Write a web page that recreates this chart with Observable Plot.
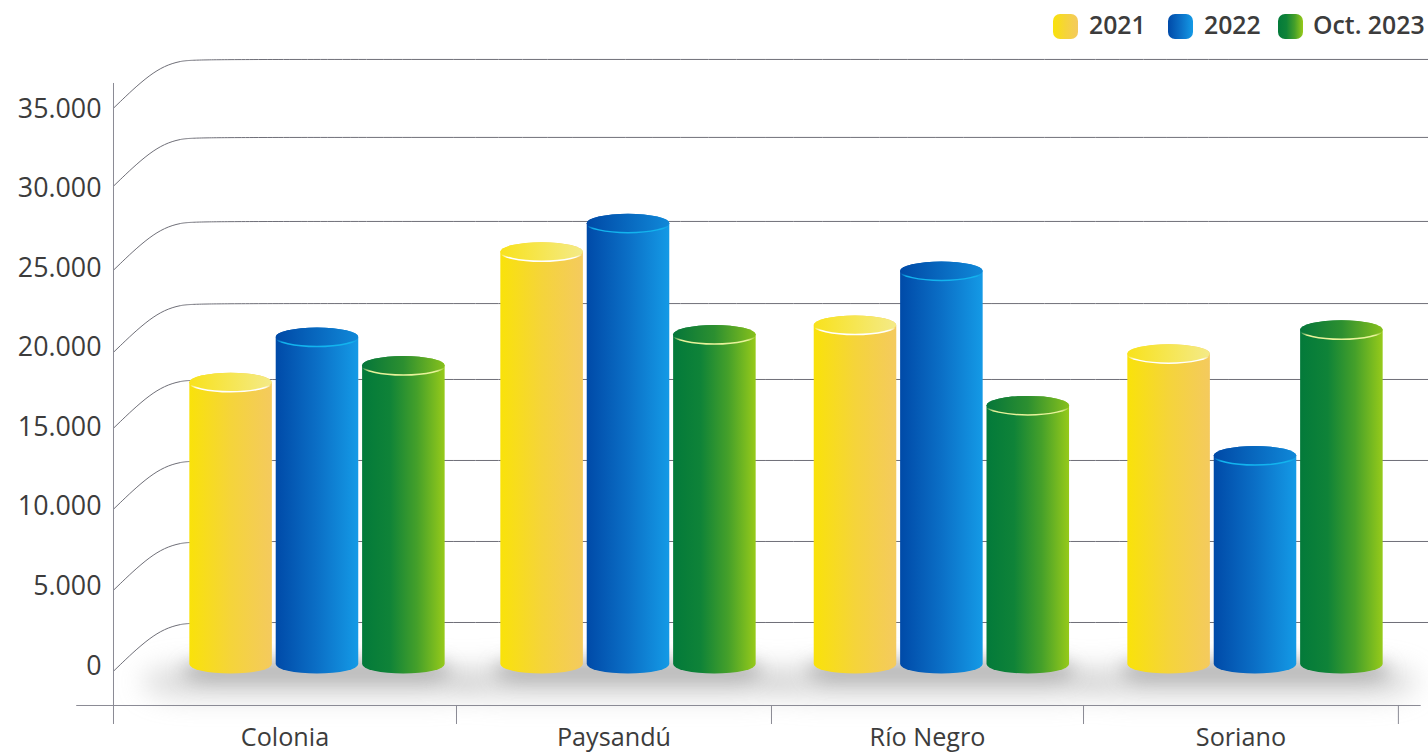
<!DOCTYPE html>
<html lang="es">
<head>
<meta charset="utf-8">
<script src="https://cdn.jsdelivr.net/npm/d3@7"></script>
<script src="https://cdn.jsdelivr.net/npm/@observablehq/plot@0.6"></script>
<style>
  html, body { margin: 0; padding: 0; background: #fff; overflow: hidden; }
  body { font-family: "Open Sans", sans-serif; color: #3c3c3c; }
  #legend { position: relative; height: 50px; width: 1428px; }
  #legend .swatch { position: absolute; top: 14px; width: 25px; height: 25px; border-radius: 7px; }
  #legend .name { position: absolute; top: 7px; font-size: 24.8px; font-weight: 600; line-height: 35px; white-space: nowrap; }
  #chart svg { display: block; }
</style>
</head>
<body>
<div id="legend"></div>
<div id="chart"></div>
<script>
// Values per department and period
const regions = ["Colonia", "Paysandú", "Río Negro", "Soriano"];
const series = ["2021", "2022", "Oct. 2023"];
const values2021 = [17700, 25900, 21300, 19500];
const values2022 = [20550, 27700, 24700, 13100];
const valuesOct2023 = [18760, 20700, 16250, 21000];
const yTicks = [0, 5000, 10000, 15000, 20000, 25000, 30000, 35000];

// Back-wall height of each perspective gridline, in chart units
const gridWall = [2640, 7730, 12820, 17910, 22680, 27840, 33120, 38020];

// Group centres and category separators along the x axis, in region-index units
const regionCentres = [0, 0.9947, 1.997, 3];
const regionEdges = [-0.6524, 0.4446, 1.452, 2.45, 3.457];

const seriesValues = [values2021, values2022, valuesOct2023];
const table = series.flatMap((name, s) =>
  regions.map((region, i) => ({region, i, s, name, value: seriesValues[s][i]}))
);

// Gradients: body and cap for every series, plus the lit rim under each cap
const palette = [
  {body: ["#f9e20a", "#f5d43a", "#f4ca5e"], cap: ["#f8e21c", "#f4ea88"], rim: "#ffffff"},
  {body: ["#004aa8", "#0b6fc6", "#149ae6"], cap: ["#0049a6", "#1088d8"], rim: "#12b4ee"},
  {body: ["#037a3a", "#0f8338", "#45a02a", "#96ca1a"], cap: ["#05763a", "#2c8f30", "#86c01c"], rim: "#e8f29a"}
];

function gradientDefs() {
  const defs = d3.create("svg:defs");
  const add = (id, colors) => {
    const g = defs.append("linearGradient").attr("id", id);
    colors.forEach((c, k) => g.append("stop")
      .attr("offset", k / (colors.length - 1)).attr("stop-color", c));
  };
  palette.forEach((p, s) => {
    add(`body-${s}`, p.body);
    add(`cap-${s}`, p.cap);
    const rim = defs.append("linearGradient").attr("id", `rim-${s}`)
      .attr("x1", 0).attr("x2", 0).attr("y1", 0).attr("y2", 1);
    rim.append("stop").attr("offset", 0.62).attr("stop-color", p.rim).attr("stop-opacity", 0);
    rim.append("stop").attr("offset", 0.8).attr("stop-color", p.rim);
  });
  return defs.node();
}

// Cylinder proportions, in px and region-index units
const capRy = 9.5;
const capRx = 41.25;
const barWidth = 0.264;
const barStep = 0.2763;
const barLeft = d => regionCentres[d.i] + (d.s - 1) * barStep - barWidth / 2;
const barRight = d => barLeft(d) + barWidth;

// Control polygon of a gridline: up the front edge, round the bend, along the wall
const gridBend = [[-0.65, 3016], [-0.534, 817], [-0.4445, 0], [-0.326, 0], [3.56, 0]];
const gridPoints = gridWall.flatMap(wall =>
  gridBend.map(([x, drop]) => ({wall, x, y: wall - drop}))
);

const axisTop = 36510;
const axisBottom = -3770;
const baseline = -2576;
const labelLine = -4620;

const blurred = amount => (index, scales, values, dimensions, context, next) => {
  const g = next(index, scales, values, dimensions, context);
  g.style.filter = `blur(${amount}px)`;
  return g;
};

const cylinders = series.flatMap((name, s) => {
  const rows = table.filter(d => d.s === s);
  return [
    Plot.rect(rows, {
      x1: barLeft, x2: barRight, y1: () => 0, y2: "value",
      insetTop: -capRy, insetBottom: -capRy,
      rx: capRx, ry: capRy, fill: `url(#body-${s})`
    }),
    Plot.rect(rows, {
      x1: barLeft, x2: barRight, y1: "value", y2: "value",
      insetTop: -capRy, insetBottom: -capRy,
      rx: capRx, ry: capRy,
      fill: `url(#cap-${s})`, stroke: `url(#rim-${s})`, strokeWidth: 1.5
    })
  ];
});

const groups = regions.map((region, i) => ({region, i, c: regionCentres[i]}));

const chart = Plot.plot({
  width: 1428,
  height: 702,
  marginLeft: 113,
  marginTop: 0,
  marginRight: 0,
  marginBottom: 0,
  style: {fontFamily: "Open Sans, sans-serif", color: "#3c3c3c", background: "#fff", overflow: "hidden"},
  x: {axis: null, domain: [-1.0138, 3.5533], range: [0, 1428]},
  y: {domain: [0, 35000], range: [614, 57]},
  marks: [
    gradientDefs,
    // Floor shadow under each group: a wide faint pool and a tighter dark core
    Plot.rect(groups, {
      x1: d => d.c - 0.56, x2: d => d.c + 0.52, y1: () => -100, y2: () => -2150,
      rx: 50, ry: 16, fill: "#a4a4a4", fillOpacity: 0.38, render: blurred(13)
    }),
    Plot.rect(groups, {
      x1: d => d.c - 0.43, x2: d => d.c + 0.43, y1: () => 200, y2: () => -1100,
      rx: 30, ry: 10, fill: "#757575", fillOpacity: 0.45, render: blurred(9)
    }),
    Plot.line(gridPoints, {
      x: "x", y: "y", z: "wall", curve: "basis", stroke: "#6f6f78", strokeWidth: 1
    }),
    Plot.ruleX([regionEdges[0]], {y1: axisTop, y2: axisBottom, stroke: "#8a8a94", strokeWidth: 1}),
    Plot.ruleX(regionEdges.slice(1), {y1: baseline, y2: axisBottom, stroke: "#8a8a94", strokeWidth: 1}),
    Plot.ruleY([baseline], {x1: -0.77, x2: 3.53, stroke: "#8a8a94", strokeWidth: 1}),
    Plot.axisY({
      ticks: yTicks, tickSize: 0, tickPadding: 12, fontSize: 26.8, fill: "#3c3c3c", dy: 1.5,
      tickFormat: d => d3.format(",")(d).replace(/,/g, ".")
    }),
    ...cylinders,
    Plot.text(groups, {
      x: d => (regionEdges[d.i] + regionEdges[d.i + 1]) / 2, y: () => labelLine,
      text: "region", fontSize: 25.2, fill: "#3c3c3c", lineAnchor: "middle"
    })
  ]
});
document.getElementById("chart").append(chart);

// Legend above the plot
const legend = d3.select("#legend");
const legendStops = [[1053, 1089], [1168, 1204], [1278, 1313]];
series.forEach((name, s) => {
  legend.append("div").attr("class", "swatch")
    .style("left", `${legendStops[s][0]}px`)
    .style("background", `linear-gradient(90deg, ${palette[s].body.join(",")})`);
  legend.append("div").attr("class", "name")
    .style("left", `${legendStops[s][1]}px`)
    .text(name);
});
</script>
</body>
</html>
